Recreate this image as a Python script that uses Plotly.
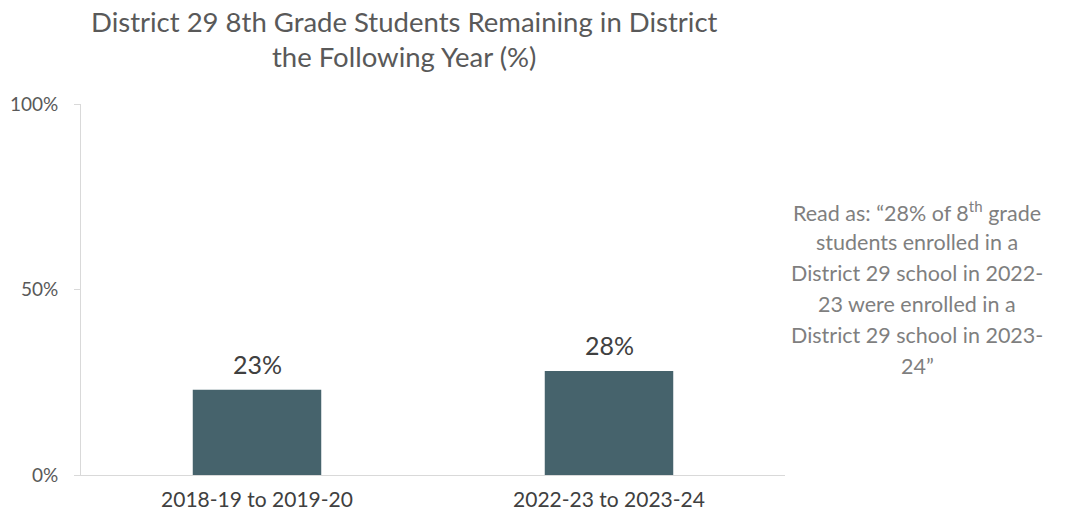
import plotly.graph_objects as go

categories = ["2018-19 to 2019-20", "2022-23 to 2023-24"]
values = [23, 28]
value_labels = ["23%", "28%"]
tick_vals = [0, 50, 100]
tick_text = ["0%", "50%", "100%"]
title_lines = ["District 29 8th Grade Students Remaining in District", "the Following Year (%)"]
note_lines = [
    "Read as: \u201c28% of 8<sup>th</sup> grade",
    "students enrolled in a",
    "District 29 school in 2022-",
    "23 were enrolled in a",
    "District 29 school in 2023-",
    "24\u201d",
]

FONT = "Lato"
OFF = 8  # page body margin
W, H = 1066, 516
L, T = 81 - OFF, 104 - OFF
R = W - (785 - OFF)
B = H - (475 - OFF)
ph = H - T - B
pw = W - L - R


def px_to_paper_y(y):
    return (H - B - (y - OFF)) / ph


def px_to_paper_x(x):
    return ((x - OFF) - L) / pw


fig = go.Figure()
fig.add_trace(go.Bar(
    x=categories, y=values,
    marker=dict(color="#46636C", line=dict(width=0)),
    width=0.365, cliponaxis=False, hoverinfo="x+y",
))

annotations = []
for cat, val, lab in zip(categories, values, value_labels):
    annotations.append(dict(text=lab, x=cat, y=val, xref="x", yref="y", showarrow=False,
                            xanchor="center", yanchor="bottom", yshift=9,
                            font=dict(family=FONT, size=25, color="#404040")))
for line, ypx in zip(title_lines, [22, 57]):
    annotations.append(dict(text=line, x=px_to_paper_x(404), y=px_to_paper_y(ypx),
                            xref="paper", yref="paper", showarrow=False,
                            xanchor="center", yanchor="middle",
                            font=dict(family=FONT, size=27.5, color="#595959")))
for i, line in enumerate(note_lines):
    ypx = 211 + i * 31
    annotations.append(dict(text=line, x=px_to_paper_x(917), y=px_to_paper_y(ypx),
                            xref="paper", yref="paper", showarrow=False,
                            xanchor="center", yanchor="middle",
                            font=dict(family=FONT, size=21.5, color="#7F7F7F")))

fig.update_layout(
    width=W, height=H,
    margin=dict(l=L, r=R, t=T, b=B, autoexpand=False),
    plot_bgcolor="white", paper_bgcolor="white",
    showlegend=False,
    annotations=annotations,
)
fig.update_yaxes(range=[0, 100], tickvals=tick_vals, ticktext=tick_text,
                 showgrid=False, zeroline=False, showline=True, linecolor="#D9D9D9", linewidth=1,
                 ticks="outside", ticklen=6, tickcolor="#D9D9D9", ticklabelstandoff=12,
                 tickfont=dict(family=FONT, size=19, color="#595959"))
fig.update_xaxes(showgrid=False, showline=True, linecolor="#D9D9D9", linewidth=1,
                 ticks="", ticklabelstandoff=6, tickfont=dict(family=FONT, size=21, color="#404040"))

fig.write_html("out.html")
